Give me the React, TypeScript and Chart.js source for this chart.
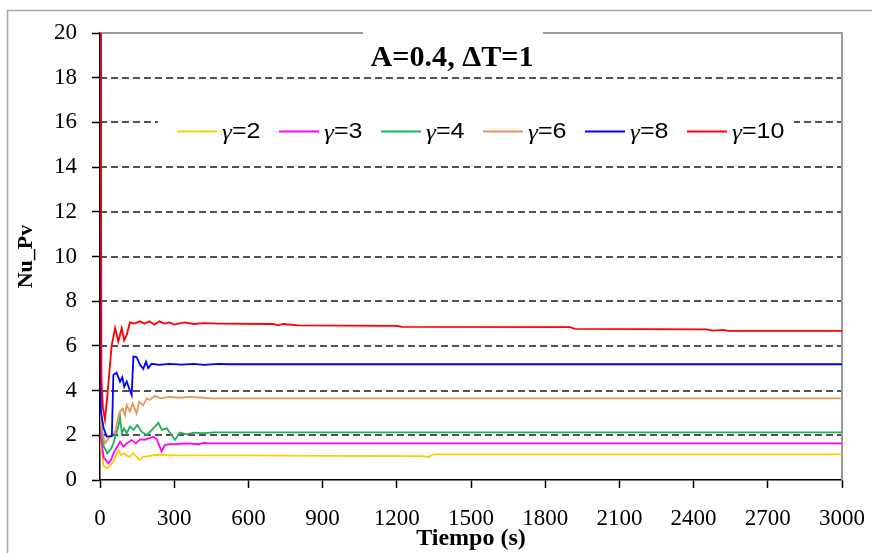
import { useEffect, useRef } from "react";
import { Chart, registerables } from "chart.js";

Chart.register(...registerables);

// Axis ranges and labels
const CHART_TITLE = "A=0.4, ΔT=1";
const X_LABEL = "Tiempo (s)";
const Y_LABEL = "Nu_Pv";
const X_MIN = 0;
const X_MAX = 3000;
const X_STEP = 300;
const Y_MIN = 0;
const Y_MAX = 20;
const Y_STEP = 2;

// Series names and colours
const GAMMA_LABELS = ["γ=2", "γ=3", "γ=4", "γ=6", "γ=8", "γ=10"];
const SERIES_COLORS = ["#FFCC00", "#FF00FF", "#1FAF5A", "#E8955A", "#0000FF", "#FF0000"];

// γ=2
const g2Time = [0, 3, 15, 30, 45, 54, 65, 74, 85, 98, 110, 121, 135, 159, 175, 195, 230, 300, 400, 600, 900, 1300, 1330, 1345, 1360, 1400, 2000, 3000];
const g2Nu = [30, 1.5, 0.62, 0.52, 0.7, 0.82, 1.1, 1.34, 1.12, 1.2, 1.08, 1.04, 1.19, 0.9, 1.04, 1.07, 1.13, 1.1, 1.1, 1.1, 1.08, 1.07, 1.03, 1.14, 1.15, 1.15, 1.15, 1.15];

// γ=3
const g3Time = [0, 3, 15, 34, 45, 54, 70, 81, 95, 108, 128, 145, 162, 180, 195, 216, 230, 249, 262, 280, 310, 350, 400, 420, 440, 600, 3000];
const g3Nu = [30, 1.94, 1.0, 0.75, 0.9, 1.19, 1.5, 1.71, 1.49, 1.64, 1.79, 1.64, 1.82, 1.8, 1.86, 1.94, 1.82, 1.27, 1.56, 1.6, 1.61, 1.64, 1.6, 1.66, 1.64, 1.64, 1.64];

// γ=4
const g4Time = [0, 3, 15, 30, 45, 54, 74, 81, 88, 97, 108, 121, 135, 151, 168, 189, 210, 236, 250, 270, 303, 323, 350, 380, 420, 460, 3000];
const g4Nu = [30, 2.5, 1.5, 1.19, 1.4, 1.64, 2.39, 2.83, 2.09, 2.31, 2.09, 2.39, 2.24, 2.46, 2.16, 2.01, 2.24, 2.56, 2.24, 2.31, 1.79, 2.12, 2.04, 2.12, 2.1, 2.13, 2.13];

// γ=6
const g6Time = [0, 3, 12, 20, 40, 61, 74, 81, 91, 101, 108, 121, 132, 148, 158, 175, 189, 200, 222, 245, 280, 320, 360, 417, 450, 3000];
const g6Nu = [30, 2.7, 2.0, 1.65, 1.94, 2.16, 2.83, 3.06, 3.2, 2.9, 3.35, 3.06, 3.43, 2.98, 3.5, 3.35, 3.65, 3.58, 3.76, 3.65, 3.72, 3.68, 3.72, 3.68, 3.65, 3.65];

// γ=8
const g8Time = [0, 3, 15, 27, 48, 54, 67, 81, 90, 98, 108, 128, 135, 148, 162, 175, 186, 195, 209, 240, 280, 330, 380, 420, 480, 525, 3000];
const g8Nu = [30, 3.1, 2.3, 1.94, 1.96, 4.7, 4.8, 4.4, 4.6, 4.17, 4.4, 3.8, 5.52, 5.5, 5.15, 4.97, 5.29, 5.0, 5.2, 5.15, 5.2, 5.16, 5.2, 5.15, 5.2, 5.18, 5.18];

// γ=10
const g10Time = [0, 6, 12, 20, 30, 47, 61, 74, 88, 98, 108, 121, 140, 160, 180, 200, 220, 240, 260, 280, 300, 340, 380, 420, 480, 700, 720, 740, 800, 1200, 1220, 1900, 1920, 2450, 2480, 2520, 2540, 3000];
const g10Nu = [30, 4.5, 3.2, 2.7, 3.8, 6.0, 6.8, 6.2, 6.8, 6.25, 6.5, 7.05, 7.0, 7.1, 7.0, 7.1, 6.95, 7.1, 7.0, 7.05, 6.95, 7.05, 6.98, 7.02, 7.0, 6.98, 6.92, 6.98, 6.92, 6.9, 6.85, 6.84, 6.76, 6.74, 6.68, 6.72, 6.67, 6.67];

const SERIES_TIMES = [g2Time, g3Time, g4Time, g6Time, g8Time, g10Time];
const SERIES_VALUES = [g2Nu, g3Nu, g4Nu, g6Nu, g8Nu, g10Nu];

const SERIF = "'Liberation Serif', 'Times New Roman', serif";
const SANS = "'Liberation Sans', Arial, sans-serif";

// Backdrop, dashed grid, plot frame, boxed title and legend
const decorPlugin = {
  id: "decor",
  beforeDraw(chart: any) {
    const { ctx, width, height } = chart;
    ctx.save();
    ctx.fillStyle = "#ffffff";
    ctx.fillRect(0, 0, width, height);
    ctx.strokeStyle = "#a8a8a8";
    ctx.lineWidth = 1.5;
    ctx.strokeRect(7.5, 10.5, width + 20, height + 20);
    ctx.restore();
  },
  beforeDatasetsDraw(chart: any) {
    const { ctx, chartArea: a, scales } = chart;
    const ys = scales.y;
    ctx.save();
    ctx.strokeStyle = "#1a1a1a";
    ctx.lineWidth = 1.5;
    ctx.setLineDash([7, 4]);
    for (let v = Y_MIN + Y_STEP; v < Y_MAX; v += Y_STEP) {
      const py = Math.round(ys.getPixelForValue(v));
      ctx.beginPath();
      ctx.moveTo(a.left, py);
      ctx.lineTo(a.right, py);
      ctx.stroke();
    }
    ctx.setLineDash([]);
    ctx.strokeStyle = "#9a9a9a";
    ctx.lineWidth = 2;
    ctx.beginPath();
    ctx.moveTo(a.left, a.top);
    ctx.lineTo(a.right, a.top);
    ctx.lineTo(a.right, a.bottom);
    ctx.stroke();
    ctx.restore();
  },
  afterDraw(chart: any) {
    const { ctx, chartArea: a } = chart;
    ctx.save();
    // Title
    ctx.fillStyle = "#ffffff";
    ctx.fillRect(a.left + 263, a.top - 10, 180, 50);
    ctx.fillStyle = "#000000";
    ctx.font = `bold 29px ${SERIF}`;
    ctx.textAlign = "center";
    ctx.textBaseline = "alphabetic";
    ctx.save();
    ctx.translate(a.left + 352, a.top + 33);
    ctx.scale(1.04, 1);
    ctx.fillText(CHART_TITLE, 0, 0);
    ctx.restore();

    // Legend
    ctx.fillStyle = "#ffffff";
    ctx.fillRect(a.left + 58, a.top + 75, 636, 44);
    const ly = a.top + 98;
    chart.data.datasets.forEach((ds: any, i: number) => {
      const x0 = a.left + 77 + i * 102;
      ctx.strokeStyle = ds.borderColor;
      ctx.lineWidth = 2;
      ctx.beginPath();
      ctx.moveTo(x0, ly + 0.5);
      ctx.lineTo(x0 + 40, ly + 0.5);
      ctx.stroke();
      const label: string = ds.label;
      const greek = label.slice(0, 1);
      const rest = label.slice(1);
      ctx.fillStyle = "#000000";
      ctx.textAlign = "left";
      ctx.textBaseline = "middle";
      ctx.save();
      ctx.translate(x0 + 45, ly);
      ctx.scale(1.14, 1);
      ctx.font = `italic 22px ${SERIF}`;
      ctx.fillText(greek, 0, 2);
      const gw = ctx.measureText(greek).width;
      ctx.font = `22px ${SANS}`;
      ctx.fillText(rest, gw, 1);
      ctx.restore();
    });
    ctx.restore();
  },
};

export default function App() {
  const canvasRef = useRef<HTMLCanvasElement | null>(null);

  useEffect(() => {
    const canvas = canvasRef.current;
    if (!canvas) return;

    const datasets = GAMMA_LABELS.map((label, i) => ({
      label,
      data: SERIES_TIMES[i].map((t, k) => ({ x: t, y: SERIES_VALUES[i][k] })),
      borderColor: SERIES_COLORS[i],
      backgroundColor: SERIES_COLORS[i],
      borderWidth: 1.8,
      pointRadius: 0,
      tension: 0,
      fill: false,
      order: GAMMA_LABELS.length - i,
    }));

    const chart = new Chart(canvas, {
      type: "line",
      data: { datasets },
      plugins: [decorPlugin],
      options: {
        animation: false,
        responsive: false,
        maintainAspectRatio: false,
        layout: { padding: { top: 33, right: 30, bottom: 0, left: 0 } },
        plugins: {
          legend: { display: false },
          tooltip: { enabled: false },
          title: { display: false },
        },
        scales: {
          x: {
            type: "linear",
            min: X_MIN,
            max: X_MAX,
            afterFit: (scale: any) => {
              scale.height = 73;
              scale.paddingLeft = 0;
              scale.paddingRight = 0;
            },
            ticks: {
              stepSize: X_STEP,
              padding: 17,
              color: "#000000",
              maxRotation: 0,
              autoSkip: false,
              font: { family: SERIF, size: 23 },
              callback: (v: any) => String(v),
            },
            grid: {
              drawOnChartArea: false,
              drawTicks: true,
              tickLength: 8,
              tickColor: "#000000",
              tickWidth: 1.5,
            },
            border: { display: true, color: "#000000", width: 1.5 },
            title: {
              display: true,
              text: X_LABEL,
              color: "#000000",
              font: { family: SERIF, size: 24, weight: "bold" },
              padding: { top: 0, bottom: 0 },
            },
          },
          y: {
            type: "linear",
            min: Y_MIN,
            max: Y_MAX,
            afterFit: (scale: any) => {
              scale.width = 100;
              scale.paddingTop = 0;
              scale.paddingBottom = 0;
            },
            ticks: {
              stepSize: Y_STEP,
              padding: 15,
              color: "#000000",
              font: { family: SERIF, size: 23 },
              callback: (v: any) => String(v),
            },
            grid: {
              drawOnChartArea: false,
              drawTicks: true,
              tickLength: 8,
              tickColor: "#000000",
              tickWidth: 1.5,
            },
            border: { display: true, color: "#000000", width: 1.5 },
            title: {
              display: true,
              text: Y_LABEL,
              color: "#000000",
              font: { family: SERIF, size: 22, weight: "bold" },
              padding: { top: 13, bottom: 0 },
            },
          },
        },
      },
    });

    return () => chart.destroy();
  }, []);

  return (
    <div style={{ position: "absolute", left: 0, top: 0, width: 872, height: 553 }}>
      <canvas ref={canvasRef} width={872} height={553} style={{ display: "block" }} />
    </div>
  );
}
